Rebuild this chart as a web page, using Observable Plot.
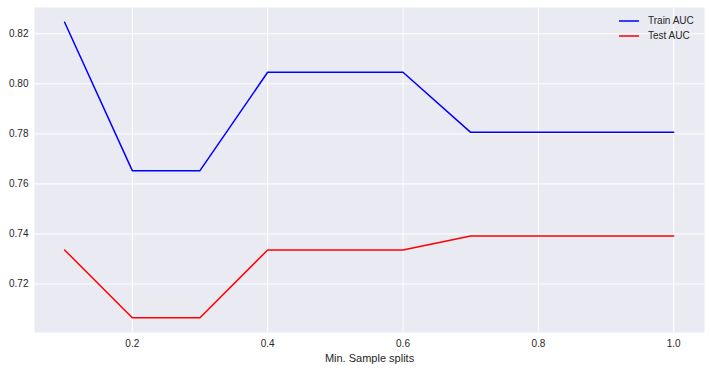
<!DOCTYPE html>
<html>
<head>
<meta charset="utf-8">
<script src="https://cdn.jsdelivr.net/npm/d3@7"></script>
<script src="https://cdn.jsdelivr.net/npm/@observablehq/plot@0.6"></script>
<style>
  html, body { margin: 0; padding: 0; background: #fff; }
  #wrap { position: relative; width: 710px; height: 371px; font-family: "Liberation Sans", Arial, sans-serif; }
  #wrap svg g[aria-label="x-axis label"] text { font-size: 11px; }
  #legend { position: absolute; left: 618px; top: 13px; font-size: 10px; color: #262626; line-height: 15px; }
  #legend .row { display: flex; align-items: center; }
  #legend svg { margin-right: 8px; }
</style>
</head>
<body>
<div id="wrap"></div>
<script>
const minSampleSplits = [0.1, 0.2, 0.3, 0.4, 0.5, 0.6, 0.7, 0.8, 0.9, 1.0];
const trainAUC = [0.8246, 0.7653, 0.7653, 0.8046, 0.8046, 0.8046, 0.7806, 0.7806, 0.7806, 0.7806];
const testAUC  = [0.7336, 0.7065, 0.7065, 0.7336, 0.7336, 0.7336, 0.7392, 0.7392, 0.7392, 0.7392];
const seriesNames = ["Train AUC", "Test AUC"];
const seriesColors = ["#0000ff", "#ff0000"];
const xTicks = [0.2, 0.4, 0.6, 0.8, 1.0];
const yTicks = [0.72, 0.74, 0.76, 0.78, 0.80, 0.82];

const rows = [];
minSampleSplits.forEach((x, i) => {
  rows.push({x, y: trainAUC[i], s: seriesNames[0]});
  rows.push({x, y: testAUC[i], s: seriesNames[1]});
});

const chart = Plot.plot({
  width: 710,
  height: 371,
  marginLeft: 34,
  marginRight: 6,
  marginTop: 7,
  marginBottom: 39,
  style: { fontFamily: "Liberation Sans, Arial, sans-serif", fontSize: "10px", color: "#262626", background: "#fff" },
  x: { domain: [0.0555, 1.0455], ticks: xTicks, tickFormat: d3.format(".1f"), tickSize: 0, tickPadding: 7, label: "Min. Sample splits", labelAnchor: "center", labelArrow: "none", labelOffset: 29 },
  y: { domain: [0.7006, 0.8305], ticks: yTicks, tickFormat: d3.format(".2f"), tickSize: 0, tickPadding: 6, label: null },
  color: { domain: seriesNames, range: seriesColors },
  marks: [
    Plot.frame({ fill: "#EAEAF2", stroke: null }),
    Plot.gridX(xTicks, { stroke: "#fff", strokeOpacity: 1, strokeWidth: 1 }),
    Plot.gridY(yTicks, { stroke: "#fff", strokeOpacity: 1, strokeWidth: 1 }),
    Plot.line(rows, { x: "x", y: "y", z: "s", stroke: "s", strokeWidth: 1.5 })
  ]
});
const wrap = document.getElementById("wrap");
wrap.appendChild(chart);

const legend = document.createElement("div");
legend.id = "legend";
seriesNames.forEach((n, i) => {
  const row = document.createElement("div");
  row.className = "row";
  row.innerHTML = `<svg width="22" height="4"><line x1="1" x2="21" y1="2" y2="2" stroke="${seriesColors[i]}" stroke-width="1.5"/></svg><span>${n}</span>`;
  legend.appendChild(row);
});
wrap.appendChild(legend);
</script>
</body>
</html>
